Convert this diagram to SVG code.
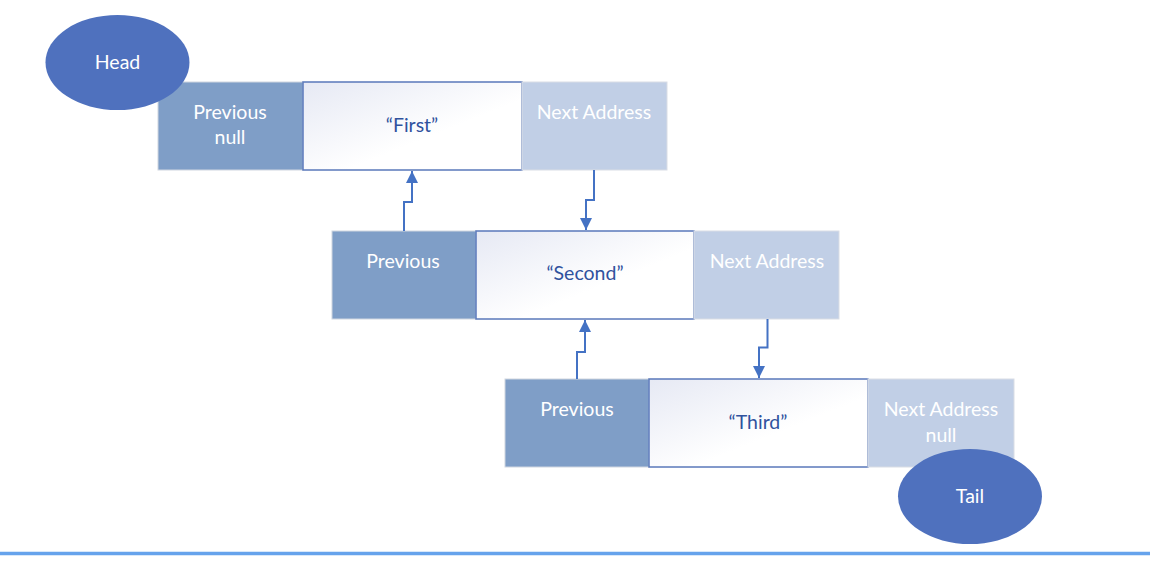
<svg xmlns="http://www.w3.org/2000/svg" width="1150" height="564" viewBox="0 0 1150 564">
<defs>
<linearGradient id="mid" x1="0" y1="0" x2="1" y2="1">
<stop offset="0" stop-color="#e6e9f4"/>
<stop offset="0.6" stop-color="#ffffff"/>
<stop offset="1" stop-color="#ffffff"/>
</linearGradient>
<marker id="ah" viewBox="0 0 10 10" refX="10" refY="5" markerWidth="6.5" markerHeight="6" orient="auto" markerUnits="strokeWidth">
<path d="M0,0 L10,5 L0,10 Z" fill="#4472c4"/>
</marker>
<style>
.prev{fill:#7f9ec7;stroke:#d0d6e0;stroke-width:1}
.next{fill:#c1cfe6;stroke:#d9dde5;stroke-width:1}
.mid{fill:url(#mid);stroke:#5a78ba;stroke-width:1.5}
.oval{fill:#4f71be}
.wt{font-family:Lato,"Liberation Sans",sans-serif;font-size:19.5px;fill:#ffffff;text-anchor:middle}
.bt{font-family:Lato,"Liberation Sans",sans-serif;font-size:19.5px;fill:#30529e;text-anchor:middle}
.conn{fill:none;stroke:#4472c4;stroke-width:2;marker-end:url(#ah)}
</style>
</defs>
<rect width="1150" height="564" fill="#ffffff"/>

<g id="node1">
<rect class="prev" x="158" y="82" width="145" height="88"/>
<text class="wt" x="230" y="119">Previous</text>
<text class="wt" x="230" y="144">null</text>
<rect class="mid" x="303" y="82" width="219" height="88"/>
<text class="bt" x="412" y="132">“First”</text>
<rect class="next" x="522" y="82" width="145" height="88"/>
<text class="wt" x="594" y="119">Next Address</text>
</g>

<g id="head">
<ellipse class="oval" cx="117.5" cy="62.5" rx="72" ry="47.5"/>
<text class="wt" x="117.5" y="69">Head</text>
</g>

<g id="node2">
<rect class="prev" x="332" y="231" width="144" height="88"/>
<text class="wt" x="403" y="268">Previous</text>
<rect class="mid" x="476" y="231" width="218" height="88"/>
<text class="bt" x="585" y="280">“Second”</text>
<rect class="next" x="694" y="231" width="145" height="88"/>
<text class="wt" x="767" y="268">Next Address</text>
</g>

<g id="node3">
<rect class="prev" x="505" y="379" width="144" height="88"/>
<text class="wt" x="577" y="416">Previous</text>
<rect class="mid" x="649" y="379" width="219" height="88"/>
<text class="bt" x="758" y="429">“Third”</text>
<rect class="next" x="868" y="379" width="146" height="88"/>
<text class="wt" x="941" y="416">Next Address</text>
<text class="wt" x="941" y="442">null</text>
</g>

<g id="tail">
<ellipse class="oval" cx="970" cy="496.5" rx="72" ry="47.5"/>
<text class="wt" x="970" y="503">Tail</text>
</g>

<g id="connectors">
<path class="conn" d="M594,170 V200 H586 V230"/>
<path class="conn" d="M404,231 V202 H412 V171"/>
<path class="conn" d="M767.5,319 V347.5 H759 V378"/>
<path class="conn" d="M577,379 V352 H585 V320"/>
</g>

<g id="baseline">
<line x1="0" y1="553.5" x2="1150" y2="553.5" stroke="#66a3ec" stroke-width="3.5"/>
</g>
</svg>
